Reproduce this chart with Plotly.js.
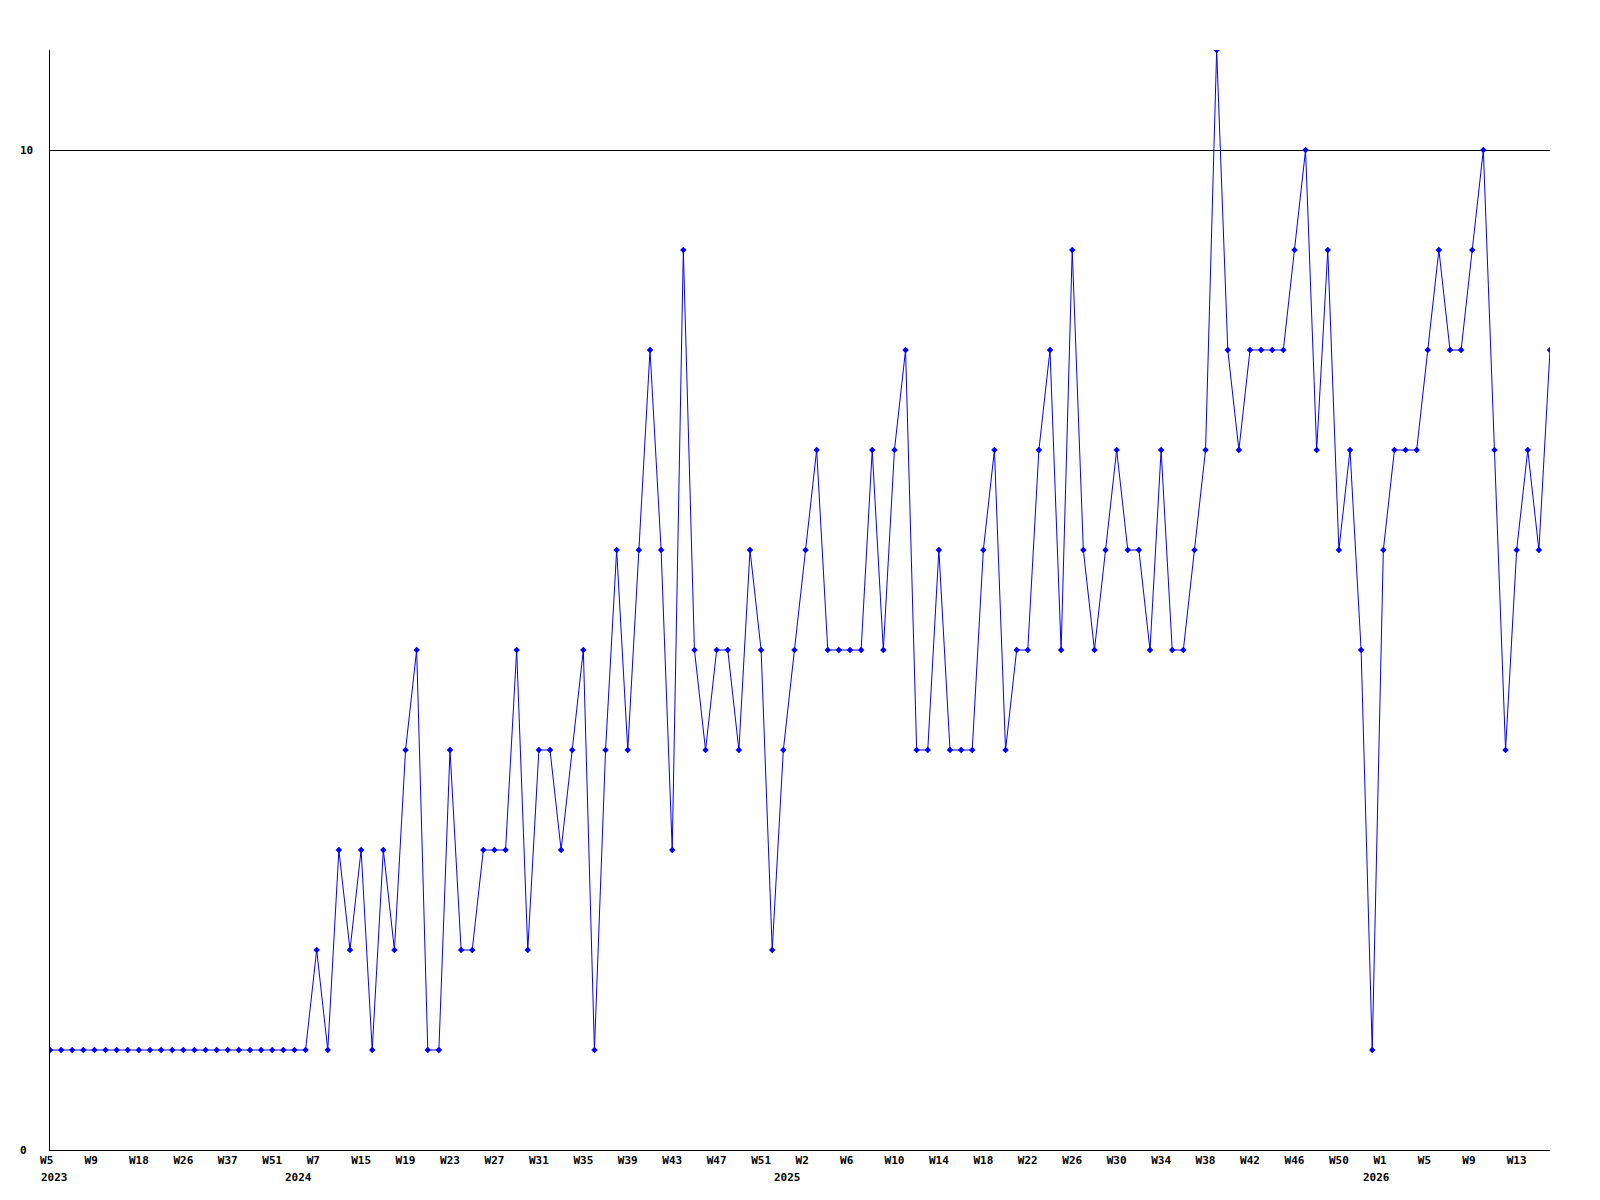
<!DOCTYPE html>
<html>
<head>
<meta charset="utf-8">
<script src="https://cdn.plot.ly/plotly-3.0.1.min.js"></script>
<style>
  html, body { margin: 0; padding: 0; background: #ffffff; }
  #chart { width: 1600px; height: 1200px; }
</style>
</head>
<body>
<div id="chart"></div>
<script>
// Weekly values, one per point, in order
const values = [
  1, 1, 1, 1, 1, 1, 1, 1, 1, 1, 1, 1, 1, 1, 1, 1, 1, 1, 1, 1, 1, 1, 1, 1,
  2, 1, 3, 2, 3, 1, 3, 2, 4, 5, 1, 1, 4, 2, 2, 3, 3, 3, 5, 2, 4, 4, 3, 4,
  5, 1, 4, 6, 4, 6, 8, 6, 3, 9, 5, 4, 5, 5, 4, 6, 5, 2, 4, 5, 6, 7, 5, 5,
  5, 5, 7, 5, 7, 8, 4, 4, 6, 4, 4, 4, 6, 7, 4, 5, 5, 7, 8, 5, 9, 6, 5, 6,
  7, 6, 6, 5, 7, 5, 5, 6, 7, 11, 8, 7, 8, 8, 8, 8, 9, 10, 7, 9, 6, 7, 5, 1,
  6, 7, 7, 7, 8, 9, 8, 8, 9, 10, 7, 4, 6, 7, 6, 8
];

// Week tick labels (every 4th point)
const tickIndex = [0, 4, 8, 12, 16, 20, 24, 28, 32, 36, 40, 44, 48, 52, 56, 60, 64,
  68, 72, 76, 80, 84, 88, 92, 96, 100, 104, 108, 112, 116, 120, 124, 128, 132];
const tickLabels = ["W5", "W9", "W18", "W26", "W37", "W51",
  "W7", "W15", "W19", "W23", "W27", "W31", "W35", "W39", "W43", "W47", "W51",
  "W2", "W6", "W10", "W14", "W18", "W22", "W26", "W30", "W34", "W38", "W42", "W46", "W50",
  "W1", "W5", "W9", "W13"];

// Year labels (first point of each year)
const yearIndex = [0, 22, 66, 119];
const yearLabels = ["2023", "2024", "2025", "2026"];

// Y-axis ticks
const yTicks = [0, 10];
const yTickLabels = ["0", "10"];

const FONT = "'DejaVu Sans Mono', 'Liberation Mono', monospace";
const xs = values.map((v, i) => i);

// pad short labels to 3 chars so the monospace text starts at the same offset
const padded = tickLabels.map(t => t.length < 3 ? t + "\u00a0".repeat(3 - t.length) : t);

const annotations = [];
yearIndex.forEach((xi, k) => {
  annotations.push({
    x: xi, xref: "x", y: 0, yref: "paper",
    text: "<b>" + yearLabels[k] + "</b>",
    showarrow: false, xanchor: "left", yanchor: "top",
    xshift: -11, yshift: -19,
    font: { family: FONT, size: 11, color: "#000" }
  });
});
yTicks.forEach((yv, k) => {
  annotations.push({
    x: 0, xref: "paper", y: yv, yref: "y",
    text: "<b>" + yTickLabels[k] + "</b>",
    showarrow: false, xanchor: "left", yanchor: "middle",
    xshift: -32,
    font: { family: FONT, size: 11, color: "#000" }
  });
});

const trace = {
  x: xs, y: values, type: "scatter", mode: "lines+markers",
  line: { color: "#0000ff", width: 1 },
  marker: { color: "#0000ff", size: 5, symbol: "diamond" },
  hoverinfo: "y"
};

const layout = {
  width: 1600, height: 1200,
  margin: { l: 50, r: 50, t: 50, b: 50, pad: 0 },
  paper_bgcolor: "#ffffff", plot_bgcolor: "#ffffff",
  showlegend: false,
  font: { family: FONT, size: 11, color: "#000" },
  xaxis: {
    range: [0, values.length - 1],
    tickmode: "array", tickvals: tickIndex, ticktext: padded.map(t => "<b>" + t + "</b>"),
    ticks: "", showgrid: false, zeroline: false,
    showline: true, linecolor: "#000", linewidth: 1,
    tickfont: { family: FONT, size: 11, color: "#000" },
    fixedrange: true
  },
  yaxis: {
    range: [0, 11],
    tickmode: "array", tickvals: yTicks, showticklabels: false,
    ticks: "", showgrid: true, gridcolor: "#000", gridwidth: 1,
    zeroline: false, showline: true, linecolor: "#000", linewidth: 1,
    fixedrange: true
  },
  annotations: annotations
};

Plotly.newPlot("chart", [trace], layout, { displayModeBar: false, staticPlot: true });
</script>
</body>
</html>
